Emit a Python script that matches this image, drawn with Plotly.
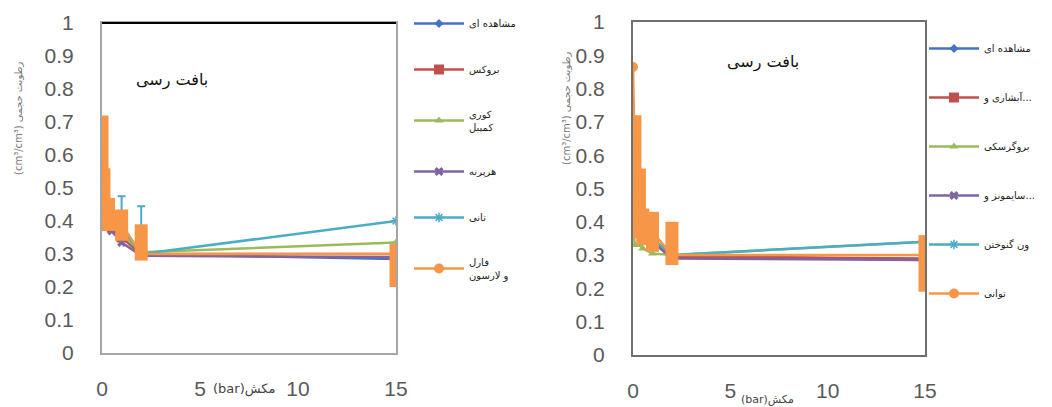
import plotly.graph_objects as go

# ---------------- data ----------------
pressure_bar = [0, 0.1, 0.33, 0.5, 1, 2, 15]

# left chart (clay texture, group 1)
left_names = ["مشاهده ای", "بروکس", "کوری<br>کمپبل", "هرپرنه", "تانی", "فارل<br>و لارسون"]
left_observed = [0.61, 0.50, 0.42, 0.39, 0.36, 0.30, 0.285]
left_brooks = [0.60, 0.48, 0.41, 0.38, 0.35, 0.30, 0.30]
left_campbell = [0.61, 0.49, 0.42, 0.39, 0.36, 0.305, 0.335]
left_model4 = [0.60, 0.47, 0.40, 0.37, 0.335, 0.295, 0.29]
left_tani = [0.61, 0.50, 0.43, 0.40, 0.38, 0.30, 0.40]
left_tani_err_up = [None, None, None, None, 0.095, 0.145, None]
left_farrell = [0.60, 0.50, 0.43, 0.40, 0.39, 0.30, 0.30]
left_farrell_err_up = [0.12, 0.06, 0.04, 0.03, 0.045, 0.09, 0.03]
left_farrell_err_down = [0.23, 0.12, 0.06, 0.03, 0.05, 0.02, 0.10]

# right chart (clay texture, group 2)
right_names = ["مشاهده ای", "آبشاری و...", "بروگرسکی", "سایمونز و...", "ون گنوختن", "توانی"]
right_observed = [0.59, 0.48, 0.42, 0.39, 0.35, 0.30, 0.285]
right_model2 = [0.58, 0.47, 0.41, 0.38, 0.345, 0.295, 0.29]
right_model3 = [0.38, 0.33, 0.33, 0.32, 0.305, 0.30, 0.34]
right_model4 = [0.59, 0.46, 0.40, 0.37, 0.34, 0.29, 0.285]
right_vg = [0.58, 0.47, 0.41, 0.38, 0.35, 0.30, 0.34]
right_power = [0.865, 0.55, 0.48, 0.40, 0.37, 0.30, 0.30]
right_power_err_up = [None, 0.17, 0.08, 0.04, 0.06, 0.10, 0.06]
right_power_err_down = [None, 0.20, 0.12, 0.07, 0.06, 0.03, 0.11]

x_ticks = [0, 5, 10, 15]
y_ticks = [0, 0.1, 0.2, 0.3, 0.4, 0.5, 0.6, 0.7, 0.8, 0.9, 1]
y_tick_text = ["0", "0.1", "0.2", "0.3", "0.4", "0.5", "0.6", "0.7", "0.8", "0.9", "1"]

colors = ["#4472C4", "#C0504D", "#9BBB59", "#8064A2", "#4BACC6", "#F79646"]
symbols = ["diamond", "square", "triangle-up", "x", "asterisk-open", "circle"]
msizes = [7, 10, 8, 8, 8, 10]

# page has an 8px body margin: figure is placed at (8, 8)
OFF = 8
W, H = 1052 - OFF, 407 - OFF
FA = "DejaVu Sans"
NUM = "Liberation Sans"


def fx(px):
    return (px - OFF) / W


def fy(py):
    return 1 - (py - OFF) / H


fig = go.Figure()


def add_series(xa, ya, names, series, legend, errs):
    for i, (nm, ys) in enumerate(zip(names, series)):
        err = errs.get(i)
        kw = {}
        if err is not None:
            up, down, thick, wid = err
            kw["error_y"] = dict(type="data", symmetric=False, array=up,
                                 arrayminus=down if down is not None else [0 if u is not None else None for u in up],
                                 color=colors[i], thickness=thick, width=wid)
        mk = dict(symbol=symbols[i], size=msizes[i], color=colors[i])
        if symbols[i] == "asterisk-open":
            mk["line"] = dict(color=colors[i], width=1.5)
        fig.add_trace(go.Scatter(
            x=pressure_bar, y=ys, name=nm, mode="lines+markers",
            xaxis=xa, yaxis=ya, legend=legend, legendgroup=legend + str(i),
            line=dict(color=colors[i], width=2.5), marker=mk, **kw))


add_series("x", "y", left_names,
           [left_observed, left_brooks, left_campbell, left_model4, left_tani, left_farrell],
           "legend",
           {4: (left_tani_err_up, None, 2, 4),
            5: (left_farrell_err_up, left_farrell_err_down, 13, 0)})
add_series("x2", "y2", right_names,
           [right_observed, right_model2, right_model3, right_model4, right_vg, right_power],
           "legend2",
           {5: (right_power_err_up, right_power_err_down, 13, 0)})

tickfont = dict(family=NUM, size=21, color="#595959")


def xax(dom, col):
    return dict(domain=dom, range=[0, 15], tickvals=x_ticks, showgrid=False, zeroline=False,
                showline=True, linecolor=col, linewidth=2, mirror=True, ticks="",
                tickfont=tickfont, ticklabelstandoff=16, automargin=False)


def yax(dom, col, anchor):
    return dict(domain=dom, range=[0, 1], tickvals=y_ticks, ticktext=y_tick_text, showgrid=False,
                zeroline=False, showline=True, linecolor=col, linewidth=2, mirror=True, ticks="",
                tickfont=tickfont, ticklabelstandoff=22, anchor=anchor, automargin=False)


fig.update_layout(
    width=W, height=H, margin=dict(l=0, r=0, t=0, b=0, autoexpand=False),
    paper_bgcolor="white", plot_bgcolor="white",
    xaxis=xax([fx(102), fx(396)], "#a6a6a6"),
    yaxis=yax([fy(353), fy(23)], "#a6a6a6", "x"),
    xaxis2=dict(xax([fx(633), fx(925)], "#6f6f6f"), anchor="y2"),
    yaxis2=yax([fy(355), fy(22)], "#6f6f6f", "x2"),
    legend=dict(x=fx(409), y=fy(9), xanchor="left", yanchor="top",
                font=dict(family=FA, size=10, color="#222"), bgcolor="rgba(0,0,0,0)",
                tracegroupgap=27, itemwidth=50),
    legend2=dict(x=fx(924), y=fy(34), xanchor="left", yanchor="top",
                 font=dict(family=FA, size=10, color="#222"), bgcolor="rgba(0,0,0,0)",
                 tracegroupgap=30, itemwidth=50),
    showlegend=True,
)

fig.add_shape(type="line", xref="x domain", yref="y domain", x0=0, x1=1, y0=1, y1=1,
              line=dict(color="black", width=2))

ann = [
    dict(text="بافت رسی", x=fx(172), y=fy(80), font=dict(family=FA, size=16, color="#111")),
    dict(text="بافت رسی", x=fx(763), y=fy(62), font=dict(family=FA, size=16, color="#111")),
    dict(text="(cm³/cm³) رطوبت حجمی", x=fx(18), y=fy(118), textangle=-90,
         font=dict(family=FA, size=10, color="#777")),
    dict(text="(cm³/cm³) رطوبت حجمی", x=fx(566), y=fy(108), textangle=-90,
         font=dict(family=FA, size=10, color="#777")),
    dict(text="(bar)مکش", x=fx(244), y=fy(389), font=dict(family=FA, size=13, color="#444")),
    dict(text="(bar)مکش", x=fx(767), y=fy(399), font=dict(family=FA, size=11, color="#444")),
]
for a in ann:
    fig.add_annotation(xref="paper", yref="paper", showarrow=False, xanchor="center",
                       yanchor="middle", **a)

fig.write_html("out.html")
